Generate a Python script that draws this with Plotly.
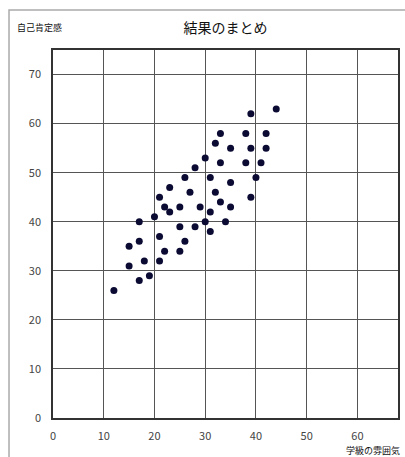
import plotly.graph_objects as go

# 学級の雰囲気 (x) と 自己肯定感 (y)
class_climate = [12, 17, 19, 15, 18, 21, 15, 17, 21, 22, 25, 26, 25, 28, 30, 31, 34,
                 17, 20, 22, 23, 25, 21, 23, 27, 26, 28, 30, 29, 31, 31, 32, 33, 35,
                 35, 33, 32, 33, 35, 38, 38, 39, 39, 44, 42, 42, 41, 40, 39]
self_esteem = [26, 28, 29, 31, 32, 32, 35, 36, 37, 34, 34, 36, 39, 39, 40, 38, 40,
               40, 41, 43, 42, 43, 45, 47, 46, 49, 51, 53, 43, 42, 49, 46, 44, 43,
               48, 52, 56, 58, 55, 58, 52, 62, 55, 63, 58, 55, 52, 49, 45]

x_ticks = [0, 10, 20, 30, 40, 50, 60]
y_ticks = [0, 10, 20, 30, 40, 50, 60, 70]

FONT = "Noto Sans CJK JP"

fig = go.Figure()
fig.add_trace(go.Scatter(
    x=class_climate, y=self_esteem, mode="markers",
    marker=dict(color="#0a0a33", size=7, symbol="circle"),
    showlegend=False,
))

fig.update_layout(
    width=405, height=457,
    margin=dict(l=53, r=7, t=50, b=39, autoexpand=False),
    paper_bgcolor="white", plot_bgcolor="white",
    font=dict(family=FONT, color="#333333", size=11),
    title=dict(text="結果のまとめ", xref="paper", x=0.5, xanchor="center",
               y=0.9387, yanchor="middle",
               font=dict(family=FONT, size=14, color="#111111")),
    xaxis=dict(range=[0, 68], tickvals=x_ticks, showgrid=True, gridcolor="#555555",
               gridwidth=1.4, zeroline=False, showline=True, linecolor="#333333",
               linewidth=1.5, mirror=True, ticks="", ticklabelstandoff=7,
               automargin=False, tickfont=dict(size=11, color="#444444")),
    yaxis=dict(range=[0, 75], tickvals=y_ticks, showgrid=True, gridcolor="#555555",
               gridwidth=1.4, zeroline=False, showline=True, linecolor="#333333",
               linewidth=1.5, mirror=True, ticks="", ticklabelstandoff=8,
               automargin=False, tickfont=dict(size=11, color="#444444")),
    shapes=[dict(type="rect", xref="paper", yref="paper",
                 x0=-0.1275, x1=1.2, y0=-0.3, y1=1.1087,
                 line=dict(color="#aaaaaa", width=1.5), layer="below")],
    annotations=[
        dict(text="自己肯定感", xref="paper", yref="paper", x=-0.110, y=1.0598,
             xanchor="left", yanchor="middle", showarrow=False,
             font=dict(family=FONT, size=9, color="#111111")),
        dict(text="学級の雰囲気", xref="paper", yref="paper", x=1.012, y=-0.088,
             xanchor="right", yanchor="middle", showarrow=False,
             font=dict(family=FONT, size=9, color="#111111")),
    ],
)

fig.write_html(
    "out.html",
    config={"displayModeBar": False},
    post_script="document.body.style.margin='0';document.body.style.overflow='hidden';",
)
